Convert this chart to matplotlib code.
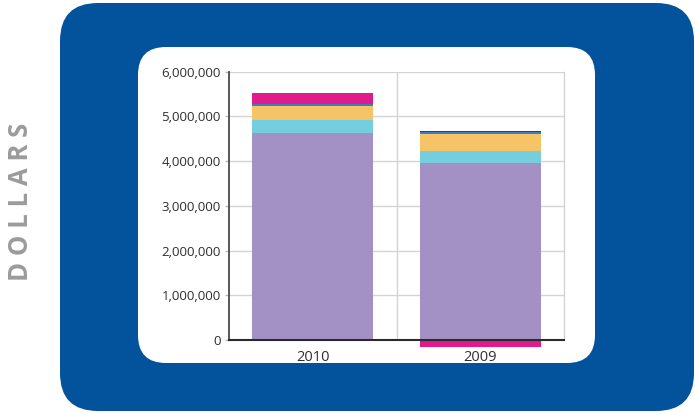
import matplotlib
matplotlib.use("Agg")
import matplotlib.pyplot as plt
from matplotlib.patches import FancyBboxPatch
from matplotlib.ticker import FuncFormatter
import numpy as np

# ---- data ----
categories = ["2010", "2009"]
series_names = ["purple", "cyan", "yellow", "blue", "dark", "pink"]
purple = [4630000, 3960000]
cyan = [290000, 270000]
yellow = [310000, 370000]
blue = [40000, 50000]
dark = [0, 20000]
pink = [250000, -150000]
colors = ["#A391C5", "#74CEDD", "#F6C466", "#3F7CBF", "#3A4556", "#E0198C"]
yticks = [0, 1000000, 2000000, 3000000, 4000000, 5000000, 6000000]

W, H = 695, 415
fig = plt.figure(figsize=(W / 100, H / 100), dpi=100)
fig.patch.set_facecolor("white")

# background in pixel coordinates
bg = fig.add_axes([0, 0, 1, 1])
bg.set_xlim(0, W)
bg.set_ylim(H, 0)
bg.axis("off")
bg.add_patch(FancyBboxPatch((60, 3), 634, 408,
                            boxstyle="round,pad=0,rounding_size=38",
                            facecolor="#02529C", edgecolor="none"))
bg.add_patch(FancyBboxPatch((138, 47), 457, 316,
                            boxstyle="round,pad=0,rounding_size=28",
                            facecolor="white", edgecolor="none"))
bg.text(21, 202, "D O L L A R S", rotation=90, ha="center", va="center",
        color="#9B9B9B", fontsize=18.5, fontweight="bold", family="Open Sans")

# chart axes
ax = fig.add_axes([229 / W, (H - 340) / H, 335 / W, (340 - 71.6) / H])
ax.set_facecolor("none")
x = np.arange(len(categories))
pos_bottom = np.zeros(len(categories))
neg_bottom = np.zeros(len(categories))
all_series = [purple, cyan, yellow, blue, dark, pink]
for vals, col in zip(all_series, colors):
    v = np.array(vals, dtype=float)
    bottoms = np.where(v >= 0, pos_bottom, neg_bottom)
    ax.bar(x, v, bottom=bottoms, width=0.72, color=col, edgecolor="none",
           clip_on=False, zorder=3)
    pos_bottom += np.where(v > 0, v, 0)
    neg_bottom += np.where(v < 0, v, 0)

ax.set_xlim(-0.5, 1.5)
ax.set_ylim(0, 6000000)
ax.set_yticks(yticks)
ax.yaxis.set_major_formatter(FuncFormatter(lambda v, p: f"{v:,.0f}"))
ax.set_xticks(x)
ax.set_xticklabels(categories)
ax.set_xticks([0.5], minor=True)

ax.grid(axis="y", color="#D4D4D4", linewidth=1.0, zorder=0)
ax.grid(axis="x", which="minor", color="#D4D4D4", linewidth=1.0, zorder=0)
ax.grid(axis="x", which="major", visible=False)

ax.spines["top"].set_visible(False)
ax.spines["right"].set_color("#D4D4D4")
ax.spines["right"].set_linewidth(1.0)
ax.spines["left"].set_color("#4A4A4A")
ax.spines["left"].set_linewidth(1.3)
ax.spines["bottom"].set_color("#2A2A2A")
ax.spines["bottom"].set_linewidth(1.5)
ax.spines["left"].set_zorder(4)
ax.spines["bottom"].set_zorder(4)

ax.tick_params(axis="y", length=3, width=1, color="#BBBBBB", pad=3,
               labelsize=9.5, labelcolor="#2E2E2E")
ax.tick_params(axis="x", which="major", length=0, pad=7,
               labelsize=10.5, labelcolor="#2E2E2E")
ax.tick_params(axis="x", which="minor", length=0)
for lab in ax.get_xticklabels() + ax.get_yticklabels():
    lab.set_family("Open Sans")

fig.savefig("out.png", dpi=100, facecolor="white")
